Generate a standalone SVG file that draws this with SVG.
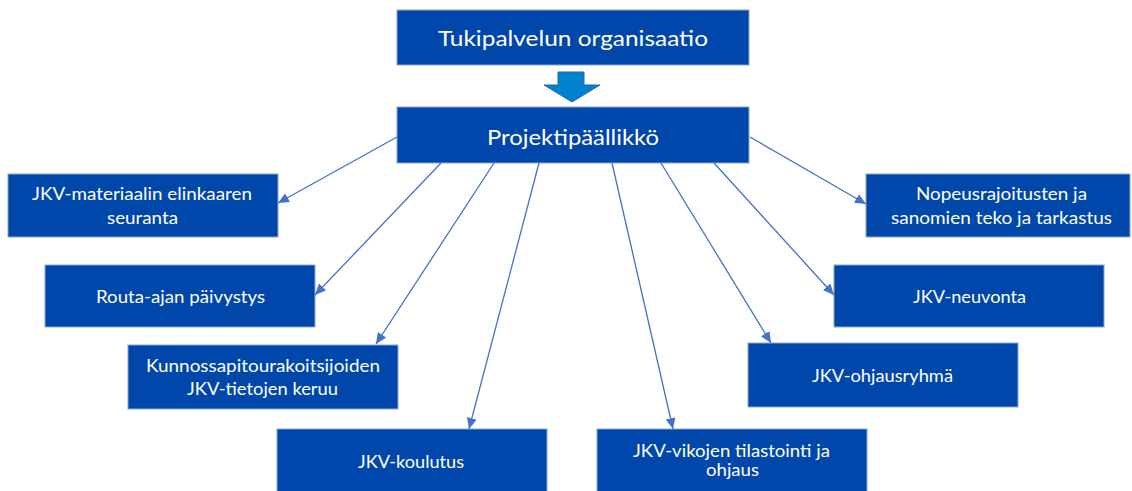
<svg xmlns="http://www.w3.org/2000/svg" width="1132" height="491" viewBox="0 0 1132 491">
<style>
.box{fill:#0047AB;stroke:#8ea6d2;stroke-width:1}
.t{font-family:Lato,"Open Sans","Liberation Sans",sans-serif;fill:#ffffff;text-anchor:middle}
.big{font-size:22px}
.sm{font-size:17px}
.con{stroke:#4472C4;stroke-width:1.3;fill:none;marker-end:url(#ah)}
</style>
<defs>
<marker id="ah" markerUnits="userSpaceOnUse" markerWidth="12" markerHeight="10" refX="11" refY="5" orient="auto">
<path d="M0,0 L11,5 L0,10 Z" fill="#4472C4"/>
</marker>
</defs>
<rect width="1132" height="491" fill="#ffffff"/>
<g id="tukipalvelu">
<rect class="box" x="397" y="10" width="352" height="55"/>
<text class="t big" x="573" y="46" textLength="270" lengthAdjust="spacingAndGlyphs">Tukipalvelun organisaatio</text>
</g>
<g id="blockarrow">
<path d="M558,72 L584,72 L584,85 L600,85 L572,102 L544,85 L558,85 Z" fill="#0083CC" stroke="#2a62a8" stroke-width="1"/>
</g>
<g id="projektipaallikko">
<rect class="box" x="397" y="107" width="352" height="56"/>
<text class="t big" x="573" y="145" textLength="172" lengthAdjust="spacingAndGlyphs">Projektipäällikkö</text>
</g>
<g id="materiaali">
<rect class="box" x="8" y="174" width="270" height="63"/>
<text class="t sm" x="142" y="200" textLength="220" lengthAdjust="spacingAndGlyphs">JKV-materiaalin elinkaaren</text>
<text class="t sm" x="142.5" y="224" textLength="71" lengthAdjust="spacingAndGlyphs">seuranta</text>
</g>
<g id="routa">
<rect class="box" x="45" y="265" width="270" height="62"/>
<text class="t sm" x="180.5" y="303" textLength="169" lengthAdjust="spacingAndGlyphs">Routa-ajan päivystys</text>
</g>
<g id="kunnossapito">
<rect class="box" x="128" y="345" width="270" height="64"/>
<text class="t sm" x="263" y="372" textLength="234" lengthAdjust="spacingAndGlyphs">Kunnossapitourakoitsijoiden</text>
<text class="t sm" x="262.5" y="395" textLength="151" lengthAdjust="spacingAndGlyphs">JKV-tietojen keruu</text>
</g>
<g id="koulutus">
<rect class="box" x="277" y="429" width="270" height="63"/>
<text class="t sm" x="411" y="468" textLength="106" lengthAdjust="spacingAndGlyphs">JKV-koulutus</text>
</g>
<g id="vikojen">
<rect class="box" x="597" y="429" width="270" height="63"/>
<text class="t sm" x="731.5" y="457" textLength="197" lengthAdjust="spacingAndGlyphs">JKV-vikojen tilastointi ja</text>
<text class="t sm" x="732.5" y="476" textLength="53" lengthAdjust="spacingAndGlyphs">ohjaus</text>
</g>
<g id="ohjausryhma">
<rect class="box" x="748" y="343" width="270" height="64"/>
<text class="t sm" x="882.5" y="382" textLength="141" lengthAdjust="spacingAndGlyphs">JKV-ohjausryhmä</text>
</g>
<g id="neuvonta">
<rect class="box" x="834" y="265" width="270" height="62"/>
<text class="t sm" x="969.5" y="303" textLength="113" lengthAdjust="spacingAndGlyphs">JKV-neuvonta</text>
</g>
<g id="nopeus">
<rect class="box" x="866" y="174" width="264" height="63"/>
<text class="t sm" x="1001.5" y="200" textLength="171" lengthAdjust="spacingAndGlyphs">Nopeusrajoitusten ja</text>
<text class="t sm" x="1001.5" y="224" textLength="221" lengthAdjust="spacingAndGlyphs">sanomien teko ja tarkastus</text>
</g>
<g id="connectors">
<line class="con" x1="397" y1="137" x2="278" y2="203"/>
<line class="con" x1="441" y1="163" x2="315" y2="295"/>
<line class="con" x1="494" y1="163" x2="376" y2="344"/>
<line class="con" x1="539" y1="163" x2="469" y2="429"/>
<line class="con" x1="612" y1="163" x2="673" y2="429"/>
<line class="con" x1="661" y1="163" x2="771" y2="343"/>
<line class="con" x1="714" y1="163" x2="834" y2="295"/>
<line class="con" x1="750" y1="137" x2="866" y2="204"/>
</g>
</svg>
